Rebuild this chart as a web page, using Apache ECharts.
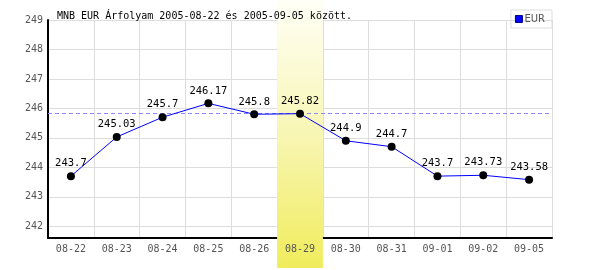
<!DOCTYPE html>
<html><head><meta charset="utf-8">
<script src="https://cdn.jsdelivr.net/npm/echarts@6/dist/echarts.min.js"></script>
<style>html,body{margin:0;padding:0;background:#fff}#c{width:600px;height:270px}</style>
</head><body><div id="c"></div>
<script>
const titleText = 'MNB EUR Árfolyam 2005-08-22 és 2005-09-05 között.';
const categories = ['08-22','08-23','08-24','08-25','08-26','08-29','08-30','08-31','09-01','09-02','09-05'];
const eurValues = [243.7,245.03,245.7,246.17,245.8,245.82,244.9,244.7,243.7,243.73,243.58];
const highlightDay = '08-29';
const referenceValue = 245.82;
const yMin = 241.6, yMax = 249;

const FONT = '"DejaVu Sans Mono", monospace';
const highlightData = categories.map(c => c === highlightDay ? 1 : null);

const chart = echarts.init(document.getElementById('c'), null, {renderer:'canvas'});
chart.setOption({
  animation:false,
  title:{text:titleText,left:52,top:6,textStyle:{fontFamily:FONT,fontSize:10,fontWeight:'normal',color:'#000'}},
  legend:{right:48,top:10,data:[{name:'EUR',icon:'rect',itemStyle:{color:'#0000ff',borderColor:'#000080',borderWidth:1}}],
    itemWidth:7,itemHeight:7,itemGap:4,padding:[4,7,4,4],borderColor:'#ddd',borderWidth:1,
    textStyle:{fontFamily:'"DejaVu Sans", sans-serif',fontSize:10,color:'#555',padding:[0,0,0,-3]}},
  grid:[
    {left:48,right:48,top:20,bottom:32,containLabel:false},
    {left:48,right:48,top:0,bottom:2,containLabel:false}
  ],
  xAxis:[
    {type:'category',data:categories,gridIndex:0,boundaryGap:true,
      axisLine:{lineStyle:{color:'#000',width:2}},axisTick:{show:false},
      axisLabel:{fontFamily:FONT,fontSize:10,color:'#555',margin:6,interval:0},
      splitLine:{show:true,interval:0,lineStyle:{color:'#ddd',width:1}}},
    {type:'category',data:categories,gridIndex:1,boundaryGap:true,show:false}
  ],
  yAxis:[
    {type:'value',min:yMin,max:yMax,splitNumber:7,gridIndex:0,
      axisLine:{show:true,lineStyle:{color:'#000',width:2}},axisTick:{show:false},
      axisLabel:{fontFamily:FONT,fontSize:10,color:'#555',margin:5,
        formatter:v => Math.abs(v-Math.round(v))<1e-6 ? String(Math.round(v)) : ''},
      splitLine:{show:true,lineStyle:{color:'#ddd',width:1}}},
    {type:'value',min:0,max:1,gridIndex:1,show:false}
  ],
  series:[
    {type:'bar',xAxisIndex:1,yAxisIndex:1,data:highlightData,barWidth:'100%',z:0,silent:true,
      itemStyle:{color:new echarts.graphic.LinearGradient(0,0,0,1,[{offset:0,color:'#fffff6'},{offset:0.5,color:'#f8f6b4'},{offset:1,color:'#f0ec5c'}])}},
    {name:'EUR',type:'line',xAxisIndex:0,yAxisIndex:0,data:eurValues,z:5,
      lineStyle:{color:'#0000ff',width:1},symbol:'circle',symbolSize:8,
      itemStyle:{color:'#000'},
      label:{show:true,position:'top',distance:3,fontFamily:FONT,fontSize:10.5,color:'#000'},
      markLine:{silent:true,symbol:'none',label:{show:false},
        lineStyle:{color:'#8888ff',type:[4,3],width:1},data:[{yAxis:referenceValue}]}}
  ]
});
</script></body></html>
